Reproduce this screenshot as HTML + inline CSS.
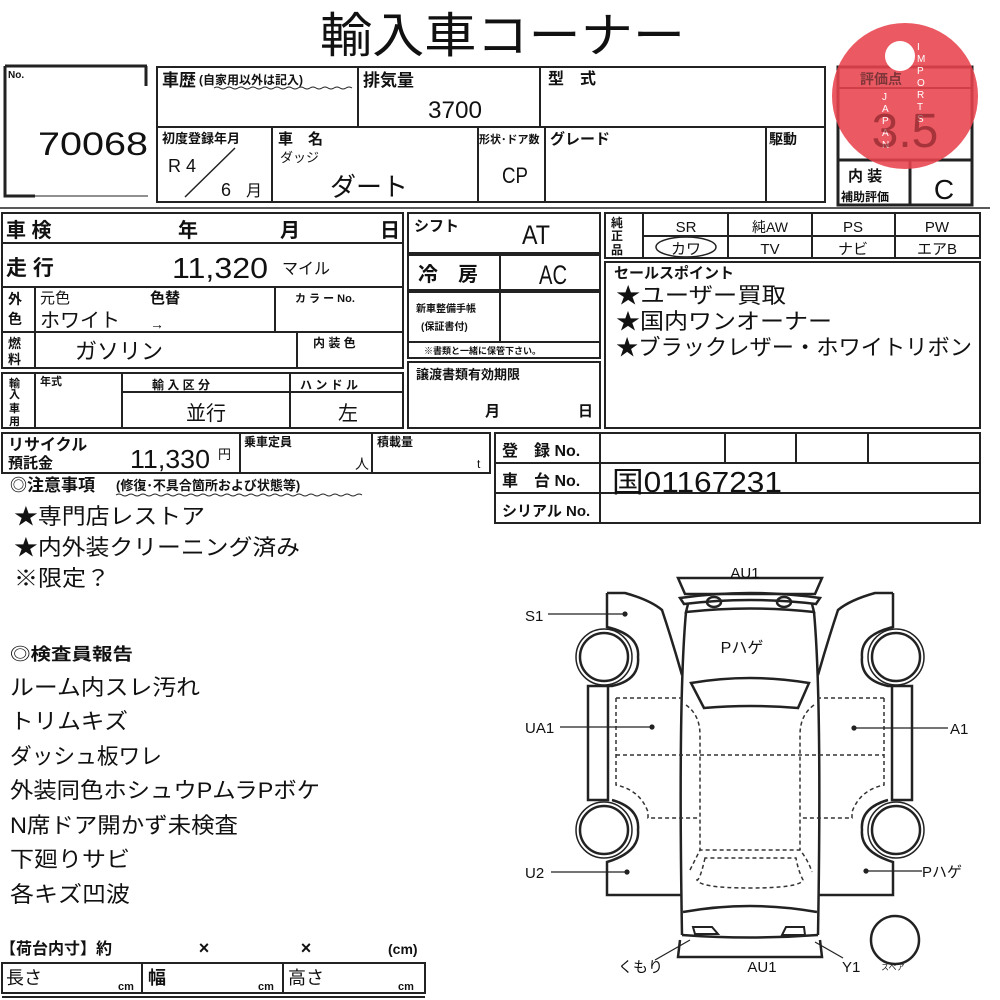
<!DOCTYPE html>
<html><head><meta charset="utf-8"><style>
html,body{margin:0;padding:0;background:#fff;}
svg{display:block;}
text{font-family:"Liberation Sans","Noto Sans CJK JP",sans-serif;fill:#111;}
.b{font-weight:bold;}
</style></head><body>
<svg width="1000" height="1000" viewBox="0 0 1000 1000" xmlns="http://www.w3.org/2000/svg">
<g stroke="#222" fill="none" stroke-width="2">
<path d="M5 66 H147 M146 66 V86" stroke-width="3"/>
<path d="M5 66 V196 H35" stroke-width="3"/>
<path d="M35 196 H148" stroke-width="1"/>
<rect x="157" y="67" width="668" height="135"/>
<line x1="157" y1="127" x2="825" y2="127"/>
<line x1="358" y1="67" x2="358" y2="127"/>
<line x1="540" y1="67" x2="540" y2="127"/>
<line x1="272" y1="127" x2="272" y2="202"/>
<line x1="478" y1="127" x2="478" y2="202"/>
<line x1="545" y1="127" x2="545" y2="202"/>
<line x1="766" y1="127" x2="766" y2="202"/>
<line x1="185" y1="197" x2="235" y2="148" stroke-width="1.5"/>
<rect x="838" y="67" width="134" height="138" stroke-width="3"/>
<line x1="838" y1="88" x2="972" y2="88"/>
<line x1="838" y1="160" x2="972" y2="160" stroke-width="3"/>
<line x1="910" y1="160" x2="910" y2="205" stroke-width="3"/>
<line x1="0" y1="208" x2="990" y2="208" stroke-width="1.5"/>
<rect x="2" y="213" width="401" height="155"/>
<line x1="2" y1="243" x2="403" y2="243"/>
<line x1="2" y1="287" x2="403" y2="287"/>
<line x1="2" y1="332" x2="403" y2="332"/>
<line x1="35" y1="287" x2="35" y2="368"/>
<line x1="275" y1="287" x2="275" y2="332"/>
<line x1="297" y1="332" x2="297" y2="368"/>
<rect x="2" y="373" width="401" height="55"/>
<line x1="35" y1="373" x2="35" y2="428"/>
<line x1="122" y1="373" x2="122" y2="428"/>
<line x1="290" y1="373" x2="290" y2="428"/>
<line x1="122" y1="392" x2="403" y2="392"/>
<rect x="2" y="433" width="488" height="40"/>
<line x1="240" y1="433" x2="240" y2="473"/>
<line x1="372" y1="433" x2="372" y2="473"/>
<rect x="408" y="213" width="192" height="40"/>
<rect x="408" y="255" width="192" height="35"/>
<line x1="500" y1="255" x2="500" y2="290"/>
<rect x="408" y="292" width="192" height="66"/>
<line x1="500" y1="292" x2="500" y2="342"/>
<line x1="408" y1="342" x2="600" y2="342"/>
<rect x="408" y="362" width="192" height="66"/>
<rect x="605" y="213" width="375" height="45"/>
<line x1="643" y1="213" x2="643" y2="258"/>
<line x1="728" y1="213" x2="728" y2="258"/>
<line x1="812" y1="213" x2="812" y2="258"/>
<line x1="895" y1="213" x2="895" y2="258"/>
<line x1="643" y1="236" x2="980" y2="236"/>
<ellipse cx="686" cy="247" rx="30" ry="10" stroke-width="1.5"/>
<rect x="605" y="262" width="375" height="166"/>
<rect x="495" y="433" width="485" height="90"/>
<line x1="495" y1="463" x2="980" y2="463"/>
<line x1="495" y1="493" x2="980" y2="493"/>
<line x1="600" y1="433" x2="600" y2="523"/>
<line x1="725" y1="433" x2="725" y2="463"/>
<line x1="796" y1="433" x2="796" y2="463"/>
<line x1="868" y1="433" x2="868" y2="463"/>
<rect x="2" y="963" width="423" height="30"/>
<line x1="142" y1="963" x2="142" y2="993"/>
<line x1="283" y1="963" x2="283" y2="993"/>
<line x1="2" y1="997" x2="425" y2="997"/>
<path d="M214 88 q3 -2 6 0 t6 0 t6 0 t6 0 t6 0 t6 0 t6 0 t6 0 t6 0 t6 0 t6 0 t6 0 t6 0 t6 0 t6 0 t6 0 t6 0 t6 0 t6 0 t6 0 t6 0 t6 0 t6 0" stroke-width="1"/>
<path d="M116 495 q3 -2 6 0 t6 0 t6 0 t6 0 t6 0 t6 0 t6 0 t6 0 t6 0 t6 0 t6 0 t6 0 t6 0 t6 0 t6 0 t6 0 t6 0 t6 0 t6 0 t6 0 t6 0 t6 0 t6 0 t6 0 t6 0 t6 0 t6 0 t6 0 t6 0 t6 0 t6 0 t6 0 t6 0 t6 0 t6 0 t6 0 t6 0 t6 0 t6 0 t6 0 t6 0" stroke-width="1"/>
</g>

<g stroke="#222" fill="none" stroke-width="2.5">
<path d="M678 578 H822 L815 594 H685 Z"/>
<path d="M680 598 Q750 588 820 598 L816 604 Q750 596 684 604 Z"/>
<path d="M688 604 L686 612 Q750 605 814 612 L812 604"/>
<path d="M686 612 Q678 700 682 935 M814 612 Q822 700 818 935"/>
<path d="M691 683 Q750 673 809 683 L798 708 Q750 704 704 708 Z"/>
<ellipse cx="714" cy="602" rx="7" ry="5"/><ellipse cx="784" cy="602" rx="7" ry="5"/>
<path d="M683 912 Q750 900 817 912"/>
<path d="M682 935 Q750 940 818 935 M680 940 L678 957 H822 L820 940"/>
<path d="M693 927 H712 L718 934 H695 Z M786 927 H804 L805 935 H782 Z" stroke-width="2"/>
<path d="M607 593 H625 Q650 600 662 610 Q672 640 682 675"/>
<path d="M607 593 V627 Q640 635 638 657 Q640 680 612 686 H608 V686"/>
<path d="M588 686 V800 H608 V686 Z"/>
<path d="M612 800 Q640 808 638 830 Q640 852 607 862 V895 H682"/>
<circle cx="604" cy="657" r="24"/><circle cx="604" cy="657" r="28" stroke-width="1.5"/>
<circle cx="604" cy="830" r="24"/><circle cx="604" cy="830" r="28" stroke-width="1.5"/>
<path d="M893 593 H875 Q850 600 838 610 Q828 640 818 675"/>
<path d="M893 593 V627 Q860 635 862 657 Q860 680 888 686 H892"/>
<path d="M892 686 V800 H912 V686 Z"/>
<path d="M888 800 Q860 808 862 830 Q860 852 893 862 V895 H818"/>
<circle cx="896" cy="657" r="24"/><circle cx="896" cy="657" r="28" stroke-width="1.5"/>
<circle cx="896" cy="830" r="24"/><circle cx="896" cy="830" r="28" stroke-width="1.5"/>
<circle cx="895" cy="940" r="24"/>
</g>
<g stroke="#333" fill="none" stroke-width="1.5" stroke-dasharray="4,3">
<path d="M616 698 H683 M616 698 V785 Q640 790 648 812 V818 H700 M616 755 H884 M884 698 H817 M884 698 V785 Q860 790 852 812 V818 H800"/>
<path d="M686 705 Q700 715 700 735 V818 V850 M814 705 Q800 715 800 735 V850"/>
<path d="M690 870 Q700 850 700 850 H800 Q808 860 812 872"/>
<path d="M705 858 Q700 880 697 880 Q700 888 750 888 Q800 888 803 880 Q798 870 796 858 Z"/>
</g>
<g stroke="#222" stroke-width="1.2">
<line x1="548" y1="614" x2="625" y2="614"/><circle cx="625" cy="614" r="2" fill="#222"/>
<line x1="560" y1="727" x2="652" y2="727"/><circle cx="652" cy="727" r="2" fill="#222"/>
<line x1="551" y1="872" x2="627" y2="872"/><circle cx="627" cy="872" r="2" fill="#222"/>
<line x1="854" y1="728" x2="948" y2="728"/><circle cx="854" cy="728" r="2" fill="#222"/>
<line x1="866" y1="871" x2="922" y2="871"/><circle cx="866" cy="871" r="2" fill="#222"/>
<line x1="655" y1="960" x2="690" y2="940"/><line x1="843" y1="958" x2="815" y2="942"/>
</g>

<circle cx="905" cy="96" r="73" fill="#e8424c" fill-opacity="0.88"/>
<circle cx="900" cy="56" r="15" fill="#fff"/>
<g font-size="10" font-family="Liberation Mono,monospace">
<text x="882" y="100" style="fill:#fff">J</text><text x="882" y="112" style="fill:#fff">A</text><text x="882" y="124" style="fill:#fff">P</text><text x="882" y="136" style="fill:#fff">A</text><text x="882" y="148" style="fill:#fff">N</text>
<text x="917" y="50" style="fill:#fff">I</text><text x="917" y="62" style="fill:#fff">M</text><text x="917" y="74" style="fill:#fff">P</text><text x="917" y="86" style="fill:#fff">O</text><text x="917" y="98" style="fill:#fff">R</text><text x="917" y="110" style="fill:#fff">T</text><text x="917" y="122" style="fill:#fff">S</text>
</g>

<text x="320" y="52" font-size="48" textLength="365" lengthAdjust="spacingAndGlyphs">輸入車コーナー</text>
<text x="8" y="78" font-size="10" class="b">No.</text>
<text x="38" y="155" font-size="32" textLength="110" lengthAdjust="spacingAndGlyphs">70068</text>
<text x="162" y="86" font-size="17" class="b">車歴</text>
<text x="199" y="84" font-size="12" class="b">(自家用以外は記入)</text>
<text x="363" y="86" font-size="17" class="b">排気量</text>
<text x="428" y="118" font-size="24" textLength="54" lengthAdjust="spacingAndGlyphs">3700</text>
<text x="548" y="84" font-size="16" class="b">型　式</text>
<text x="162" y="143" font-size="13" class="b">初度登録年月</text>
<text x="168" y="172" font-size="18">R 4</text>
<text x="221" y="196" font-size="18">6</text><text x="246" y="196" font-size="16">月</text>
<text x="278" y="144" font-size="15" class="b">車　名</text>
<text x="280" y="162" font-size="13">ダッジ</text>
<text x="330" y="196" font-size="26">ダート</text>
<text x="479" y="143" font-size="11" class="b">形状･ドア数</text>
<text x="502" y="183" font-size="22" textLength="26" lengthAdjust="spacingAndGlyphs">CP</text>
<text x="550" y="144" font-size="15" class="b">グレード</text>
<text x="769" y="144" font-size="14" class="b">駆動</text>
<text x="860" y="84" font-size="14" class="b" fill-opacity="0.5">評価点</text>
<text x="905" y="147" font-size="48" text-anchor="middle" style="fill:#7a1d22" fill-opacity="0.6">3.5</text>
<text x="848" y="181" font-size="15" class="b">内 装</text>
<text x="841" y="201" font-size="12" class="b">補助評価</text>
<text x="944" y="199" font-size="28" text-anchor="middle">C</text>

<text x="6" y="237" font-size="20" class="b">車 検</text>
<text x="178" y="237" font-size="20" class="b">年</text>
<text x="280" y="237" font-size="20" class="b">月</text>
<text x="380" y="237" font-size="20" class="b">日</text>
<text x="6" y="275" font-size="21" class="b">走 行</text>
<text x="172" y="278" font-size="29" textLength="96" lengthAdjust="spacingAndGlyphs">11,320</text>
<text x="282" y="274" font-size="16">マイル</text>
<text x="8" y="304" font-size="14" class="b">外</text><text x="8" y="324" font-size="14" class="b">色</text>
<text x="40" y="303" font-size="15">元色</text>
<text x="150" y="303" font-size="15" class="b">色替</text>
<text x="40" y="327" font-size="20">ホワイト</text><text x="150" y="329" font-size="14">→</text>
<text x="295" y="302" font-size="11" class="b">カ ラ ー No.</text>
<text x="8" y="348" font-size="13" class="b">燃</text><text x="8" y="364" font-size="13" class="b">料</text>
<text x="75" y="359" font-size="22">ガソリン</text>
<text x="313" y="347" font-size="12" class="b">内 装 色</text>
<text x="9" y="387" font-size="11" class="b">輸</text><text x="9" y="398" font-size="11" class="b">入</text><text x="9" y="412" font-size="11" class="b">車</text><text x="9" y="425" font-size="11" class="b">用</text>
<text x="40" y="385" font-size="11" class="b">年式</text>
<text x="152" y="389" font-size="12" class="b">輸 入 区 分</text>
<text x="300" y="389" font-size="12" class="b">ハ ン ド ル</text>
<text x="206" y="420" font-size="20" text-anchor="middle">並行</text>
<text x="348" y="420" font-size="20" text-anchor="middle">左</text>
<text x="8" y="450" font-size="16" class="b">リサイクル</text>
<text x="8" y="468" font-size="15" class="b">預託金</text>
<text x="130" y="468" font-size="26" textLength="80" lengthAdjust="spacingAndGlyphs">11,330</text><text x="218" y="459" font-size="13">円</text>
<text x="244" y="446" font-size="12" class="b">乗車定員</text>
<text x="355" y="469" font-size="14">人</text>
<text x="377" y="446" font-size="12" class="b">積載量</text>
<text x="477" y="468" font-size="12">t</text>
<text x="10" y="491" font-size="17" class="b">◎注意事項</text><text x="116" y="490" font-size="13" class="b">(修復･不具合箇所および状態等)</text>

<text x="414" y="231" font-size="15" class="b">シフト</text>
<text x="536" y="244" font-size="27" text-anchor="middle" textLength="28" lengthAdjust="spacingAndGlyphs">AT</text>
<text x="418" y="281" font-size="20" class="b">冷　房</text>
<text x="553" y="284" font-size="27" text-anchor="middle" textLength="28" lengthAdjust="spacingAndGlyphs">AC</text>
<text x="416" y="312" font-size="10" class="b">新車整備手帳</text>
<text x="421" y="330" font-size="10" class="b">(保証書付)</text>
<text x="424" y="354" font-size="9" class="b">※書類と一緒に保管下さい。</text>
<text x="416" y="379" font-size="13" class="b">譲渡書類有効期限</text>
<text x="485" y="416" font-size="15" class="b">月</text><text x="578" y="416" font-size="15" class="b">日</text>

<text x="611" y="227" font-size="12" class="b">純</text><text x="611" y="240" font-size="12" class="b">正</text><text x="611" y="254" font-size="12" class="b">品</text>
<text x="686" y="232" font-size="15" text-anchor="middle">SR</text>
<text x="770" y="232" font-size="14" text-anchor="middle">純AW</text>
<text x="853" y="232" font-size="15" text-anchor="middle">PS</text>
<text x="937" y="232" font-size="15" text-anchor="middle">PW</text>
<text x="686" y="254" font-size="15" text-anchor="middle">カワ</text>
<text x="770" y="254" font-size="15" text-anchor="middle">TV</text>
<text x="853" y="254" font-size="15" text-anchor="middle">ナビ</text>
<text x="937" y="254" font-size="15" text-anchor="middle">エアB</text>
<text x="614" y="278" font-size="15" class="b">セールスポイント</text>
<text x="616" y="303" font-size="22" textLength="170" lengthAdjust="spacingAndGlyphs">★ユーザー買取</text>
<text x="616" y="329" font-size="22" textLength="216" lengthAdjust="spacingAndGlyphs">★国内ワンオーナー</text>
<text x="616" y="355" font-size="22" textLength="356" lengthAdjust="spacingAndGlyphs">★ブラックレザー・ホワイトリボン</text>

<text x="502" y="456" font-size="16" class="b">登　録 No.</text>
<text x="502" y="486" font-size="16" class="b">車　台 No.</text>
<text x="502" y="516" font-size="15" class="b">シリアル No.</text>
<text x="612" y="492" font-size="29" textLength="170" lengthAdjust="spacingAndGlyphs">国01167231</text>

<text x="14" y="524" font-size="22" textLength="191" lengthAdjust="spacingAndGlyphs">★専門店レストア</text>
<text x="14" y="555" font-size="22" textLength="286" lengthAdjust="spacingAndGlyphs">★内外装クリーニング済み</text>
<text x="14" y="586" font-size="22" textLength="96" lengthAdjust="spacingAndGlyphs">※限定？</text>
<text x="10" y="660" font-size="17" class="b" textLength="123" lengthAdjust="spacingAndGlyphs">◎検査員報告</text>
<text x="10" y="695" font-size="22" textLength="190" lengthAdjust="spacingAndGlyphs">ルーム内スレ汚れ</text>
<text x="10" y="729" font-size="22" textLength="118" lengthAdjust="spacingAndGlyphs">トリムキズ</text>
<text x="10" y="764" font-size="22" textLength="152" lengthAdjust="spacingAndGlyphs">ダッシュ板ワレ</text>
<text x="10" y="798" font-size="22" textLength="310" lengthAdjust="spacingAndGlyphs">外装同色ホシュウPムラPボケ</text>
<text x="10" y="833" font-size="22" textLength="228" lengthAdjust="spacingAndGlyphs">N席ドア開かず未検査</text>
<text x="10" y="867" font-size="22" textLength="120" lengthAdjust="spacingAndGlyphs">下廻りサビ</text>
<text x="10" y="902" font-size="22" textLength="120" lengthAdjust="spacingAndGlyphs">各キズ凹波</text>
<text x="0" y="954" font-size="16" class="b">【荷台内寸】約</text>
<text x="204" y="954" font-size="18" class="b" text-anchor="middle">×</text>
<text x="306" y="954" font-size="18" class="b" text-anchor="middle">×</text>
<text x="388" y="954" font-size="14" class="b">(cm)</text>
<text x="6" y="984" font-size="18">長さ</text><text x="118" y="990" font-size="11" class="b">cm</text>
<text x="148" y="984" font-size="18" class="b">幅</text><text x="258" y="990" font-size="11" class="b">cm</text>
<text x="288" y="984" font-size="18">高さ</text><text x="398" y="990" font-size="11" class="b">cm</text>

<text x="745" y="578" font-size="15" text-anchor="middle">AU1</text>
<text x="525" y="621" font-size="15">S1</text>
<text x="525" y="733" font-size="15">UA1</text>
<text x="525" y="878" font-size="15">U2</text>
<text x="950" y="734" font-size="15">A1</text>
<text x="922" y="877" font-size="15">Pハゲ</text>
<text x="742" y="653" font-size="16" text-anchor="middle">Pハゲ</text>
<text x="618" y="972" font-size="15">くもり</text>
<text x="762" y="972" font-size="15" text-anchor="middle">AU1</text>
<text x="842" y="972" font-size="15">Y1</text>
<text x="881" y="970" font-size="8">スペア</text>
</svg>
</body></html>
